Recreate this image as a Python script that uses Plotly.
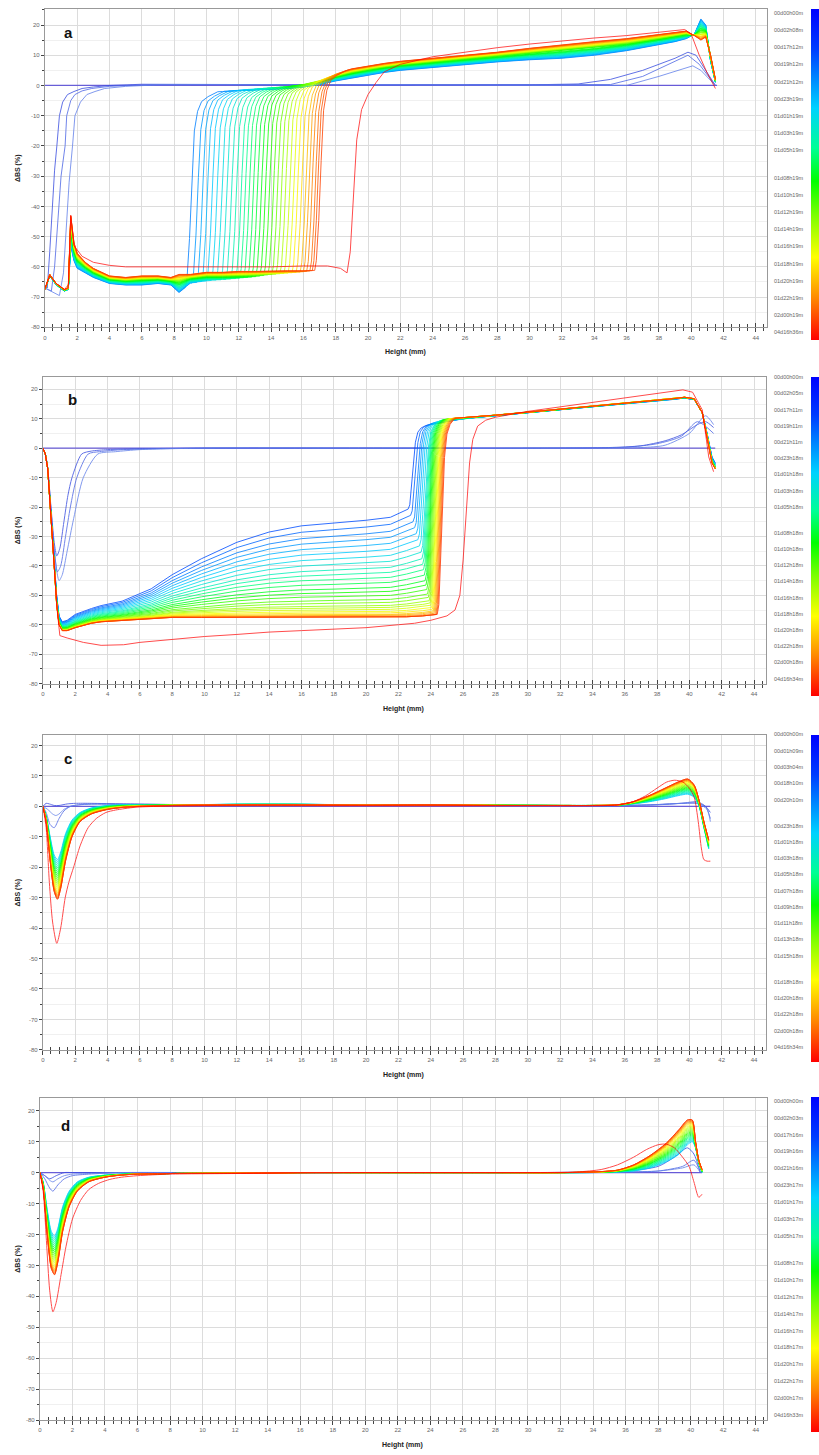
import numpy as np
import plotly.graph_objects as go
from plotly.colors import sample_colorscale

W, H = 819, 1455

# ---------------- colour scale of the time legend (first scan blue -> last scan red)
JET = [[0.00, 'rgb(0,0,255)'], [0.12, 'rgb(0,60,255)'], [0.30, 'rgb(0,210,255)'],
       [0.42, 'rgb(0,255,150)'], [0.52, 'rgb(0,255,0)'], [0.62, 'rgb(120,255,0)'],
       [0.75, 'rgb(255,255,0)'], [0.87, 'rgb(255,140,0)'], [1.00, 'rgb(255,0,0)']]

# ---------------- legend labels (scan times)
LABELS_A = ["00d00h00m", "00d02h08m", "00d17h12m", "00d19h12m", "00d21h12m", "00d23h19m",
            "01d01h19m", "01d03h19m", "01d05h19m", "01d08h19m", "01d10h19m", "01d12h19m",
            "01d14h19m", "01d16h19m", "01d18h19m", "01d20h19m", "01d22h19m", "02d00h19m", "04d16h36m"]
LABELS_B = ["00d00h00m", "00d02h05m", "00d17h11m", "00d19h11m", "00d21h11m", "00d23h18m",
            "01d01h18m", "01d03h18m", "01d05h18m", "01d08h18m", "01d10h18m", "01d12h18m",
            "01d14h18m", "01d16h18m", "01d18h18m", "01d20h18m", "01d22h18m", "02d00h18m", "04d16h34m"]
LABELS_C = ["00d00h00m", "00d01h09m", "00d03h04m", "00d18h10m", "00d20h10m", "00d23h18m",
            "01d01h18m", "01d03h18m", "01d05h18m", "01d07h18m", "01d09h18m", "01d11h18m",
            "01d13h18m", "01d15h18m", "01d18h18m", "01d20h18m", "01d22h18m", "02d00h18m", "04d16h34m"]
LABELS_D = ["00d00h00m", "00d02h03m", "00d17h16m", "00d19h16m", "00d21h16m", "00d23h17m",
            "01d01h17m", "01d03h17m", "01d05h17m", "01d08h17m", "01d10h17m", "01d12h17m",
            "01d14h17m", "01d16h17m", "01d18h17m", "01d20h17m", "01d22h17m", "02d00h17m", "04d16h33m"]

X_TICKS = list(range(0, 45, 2))
Y_TICKS = list(range(-80, 21, 10))

# ======================= PANEL A =======================
A_REF_X = [0, 41.6]
A_REF_Y = [0, 0]
A_EARLY = [
    dict(x=[0, 0.15, 0.3, 0.45, 0.6, 0.74, 0.9, 1.1, 1.4, 1.8, 2.3, 3, 4, 6, 10, 20, 30, 33, 35, 37, 39, 39.8, 40.3, 41, 41.5],
         y=[-66, -67, -55, -40, -28, -20, -10, -5.5, -3, -2, -1, -0.5, 0, 0.4, 0.3, 0.2, 0.2, 0.5, 2, 5, 9, 11, 10, 4, 0]),
    dict(x=[0, 0.4, 0.6, 0.8, 1.0, 1.25, 1.35, 1.6, 1.86, 2.3, 2.9, 4, 6, 10, 20, 30, 35, 37, 39, 39.8, 40.5, 41.5],
         y=[-67, -68, -60, -45, -30, -20, -10, -5, -3, -1.8, -1, -0.3, 0.2, 0.3, 0.2, 0.2, 0.3, 3, 8, 10, 7, 0]),
    dict(x=[0, 0.5, 0.9, 1.15, 1.35, 1.5, 1.71, 1.86, 2.2, 2.6, 3.1, 3.7, 5, 7, 10, 20, 30, 36, 38, 39.5, 40.1, 40.6, 41.5],
         y=[-67, -68.5, -69.5, -62, -45, -32, -20, -10, -5.5, -3, -2, -1, -0.3, 0.2, 0.3, 0.2, 0.2, 0, 3, 5.5, 6.5, 5, 0]),
]
A_PLAT_X = [0, 0.3, 0.7, 1.2, 1.45, 1.6, 1.8, 2.0, 2.5, 3, 4, 5, 6, 7, 7.8, 8.3, 9, 10, 11, 12, 13, 14, 15, 16, 17.5]
A_PLAT_HI = [-67.5, -62.5, -65.5, -67.5, -67, -43, -52, -55.5, -58.5, -60.5, -63, -63.5, -63, -63, -63.5, -62.5,
             -62.5, -61.8, -61.8, -61.5, -61.5, -61.3, -61.3, -61.3, -61]
A_PLAT_LO = [-67.5, -63, -66, -68, -67.5, -53, -58, -60.5, -62, -63.5, -65.5, -66, -66, -65.5, -66, -68.5,
             -65.5, -65, -65, -65, -65, -64.5, -64.5, -64.5, -64.5]
A_UP_X = [9, 11, 13, 15, 16, 17, 18, 19, 20, 21, 22, 24, 26, 28, 30, 32, 34, 36, 38, 39, 39.7, 40.2, 40.6, 40.9, 41.2, 41.5]
A_UP_HI = [-1, -0.5, 0, 0.3, 0.8, 2, 4, 5.5, 6.5, 7.3, 8, 9, 10, 11, 12.3, 13.5, 14.5, 15.5, 16.8, 17.5, 18, 16.5, 15, 16, 10, 2]
A_UP_LO = [-2.5, -2, -1.5, -1, -0.5, 0.3, 1.5, 2.5, 3.5, 4.3, 5, 6, 7, 7.8, 8.5, 9, 10, 11.5, 13.5, 14.5, 15.5, 17, 22, 20, 8, 1]
A_FRONT = [8.7, 9.1, 9.4, 9.7, 10.0, 10.3, 10.6, 10.9, 11.2, 11.5, 11.8, 12.05, 12.3, 12.55, 12.8, 13.05,
           13.3, 13.55, 13.8, 14.05, 14.3, 14.55, 14.8, 15.05, 15.3, 15.55, 15.8, 16.0, 16.2, 16.4, 16.55, 16.7]
A_W = [0.0, 0.03, 0.06, 0.1, 0.13, 0.16, 0.2, 0.23, 0.26, 0.3, 0.33, 0.36, 0.4, 0.43, 0.46, 0.5,
       0.53, 0.56, 0.6, 0.63, 0.66, 0.7, 0.73, 0.76, 0.8, 0.83, 0.86, 0.9, 0.93, 0.96, 0.98, 1.0]
A_T = [0.2, 0.23, 0.25, 0.27, 0.29, 0.31, 0.33, 0.35, 0.37, 0.39, 0.41, 0.43, 0.45, 0.47, 0.49, 0.51,
       0.53, 0.55, 0.58, 0.61, 0.64, 0.67, 0.7, 0.73, 0.76, 0.79, 0.82, 0.85, 0.88, 0.9, 0.92, 0.94]
A_LAST_X = [0, 0.3, 0.7, 1.2, 1.45, 1.6, 1.8, 2.3, 3, 4, 5, 6, 8, 10, 12, 14, 16, 17.5, 18.3, 18.7, 18.9, 19.1,
            19.3, 19.6, 20, 20.5, 21, 22, 24, 26, 28, 30, 32, 34, 36, 38, 39, 39.6, 40, 40.5, 41, 41.5]
A_LAST_Y = [-67, -63, -65.5, -67.5, -66, -43, -53, -56.5, -58.5, -59.5, -60, -60, -60, -60, -60, -60, -59.7, -59.7,
            -60.5, -62, -55, -35, -18, -8, -3, 1, 4.5, 7, 9.5, 11, 12.5, 13.7, 14.8, 15.7, 16.5, 17.5, 18, 18.5, 17, 10, 4, -1]

# ======================= PANEL B =======================
B_REF_X = [0, 41.6]
B_REF_Y = [0, 0]
B_EARLY = [
    dict(x=[0, 0.15, 0.3, 0.5, 0.7, 0.86, 1.05, 1.3, 1.55, 1.8, 2.4, 3, 4, 6, 10, 20, 30, 35, 37, 38.5, 39.5, 40.5, 41, 41.5],
         y=[0, -2, -7, -20, -32, -36.6, -34, -25, -16, -10, -2, -1, -0.5, -0.2, 0, 0, 0, 0.2, 0.8, 2.5, 4.5, 8, 9, 7]),
    dict(x=[0, 0.15, 0.3, 0.5, 0.7, 0.9, 1.1, 1.4, 1.7, 2.1, 2.8, 3.5, 5, 10, 20, 30, 36, 38, 39.5, 40.5, 41.5],
         y=[0, -2, -7, -21, -34, -42, -40, -30, -20, -10, -2, -1.2, -0.5, 0, 0, 0, 0.3, 1.5, 4, 9, 5]),
    dict(x=[0, 0.15, 0.3, 0.5, 0.7, 1.0, 1.2, 1.5, 1.9, 2.5, 3.4, 4.5, 6, 10, 20, 30, 37, 38.5, 40, 41, 41.5],
         y=[0, -2, -7, -21, -35, -45, -43, -35, -24, -10, -2, -1.2, -0.5, 0, 0, 0, 0.2, 1, 5, 11, 8]),
]
B_PLAT_X = [0, 0.15, 0.3, 0.5, 0.7, 0.85, 1.0, 1.2, 1.5, 2, 3, 3.6, 4.9, 6.7, 8, 9.8, 12, 14, 16, 18, 20, 21.5, 22.5, 23.5, 24.2]
B_PLAT_TOP = [0, -2, -7, -22, -38, -50, -57, -59, -58.5, -56.5, -54.5, -53.5, -52, -47.8, -43, -37.6, -32, -28.5,
              -26.4, -25.5, -24.5, -23.5, -21, -18, -15]
B_PLAT_BOT = [0, -2, -7, -22, -40, -53, -60, -62, -62, -61, -59.5, -59, -58.5, -58, -57.5, -57.5, -57.5, -57.5,
              -57.5, -57.5, -57.5, -57.5, -57.3, -57, -56.5]
B_UP_X = [22.5, 23.0, 23.5, 24.0, 24.5, 25, 26, 27, 28, 30, 32, 34, 36, 38, 39, 39.7, 40.3, 40.8, 41.1, 41.4, 41.6]
B_UP_TOP = [6, 7, 7.5, 8, 8.5, 9, 10, 10.5, 11, 12, 13, 14, 15, 16, 16.5, 17, 16.5, 12, 5, -3, -5]
B_UP_BOT = [9, 9.5, 9.8, 10, 10, 10, 10.3, 10.8, 11.2, 12.2, 13.2, 14.2, 15.2, 16.3, 16.8, 17.3, 16.8, 12, 4, -5, -7]
B_FRONT = [22.6, 22.75, 22.9, 23.0, 23.1, 23.2, 23.3, 23.4, 23.45, 23.5, 23.55, 23.6, 23.65, 23.7,
           23.75, 23.8, 23.85, 23.9, 23.95, 24.0, 24.05, 24.1, 24.15, 24.2, 24.25, 24.3, 24.35, 24.4]
B_W = [0.0, 0.07, 0.14, 0.2, 0.26, 0.32, 0.38, 0.44, 0.5, 0.55, 0.6, 0.65, 0.7, 0.74,
       0.78, 0.82, 0.85, 0.88, 0.9, 0.92, 0.94, 0.955, 0.97, 0.98, 0.99, 1.0, 1.0, 1.0]
B_T = [0.14, 0.17, 0.2, 0.23, 0.26, 0.29, 0.32, 0.35, 0.38, 0.41, 0.44, 0.47, 0.5, 0.53,
       0.56, 0.59, 0.62, 0.65, 0.68, 0.71, 0.74, 0.77, 0.8, 0.83, 0.86, 0.89, 0.92, 0.95]
B_LAST_X = [0, 0.15, 0.3, 0.5, 0.7, 0.9, 1.05, 1.5, 2.5, 3.6, 5, 6, 8, 10, 12, 14, 16, 18, 20, 22, 23, 24, 25, 25.5,
            25.8, 26.0, 26.2, 26.4, 26.6, 26.9, 27.4, 28, 30, 32, 34, 36, 38, 39, 39.6, 40.2, 40.8, 41.2, 41.5]
B_LAST_Y = [0, -2, -7, -22, -40, -56, -63.7, -64.5, -66, -67, -66.8, -66, -65, -64, -63.3, -62.5, -62, -61.5, -61,
            -60, -59.5, -58.5, -57, -55, -50, -38, -20, -5, 3, 7.5, 9.5, 10.5, 12.5, 14, 15.5, 17, 18.5, 19.3, 19.8,
            19, 13, -3, -8]

# ======================= PANEL C =======================
C_REF_X = [0, 41.3]
C_REF_Y = [0, 0]
C_EARLY = [
    dict(x=[0, 0.2, 0.4, 0.7, 1, 1.5, 2, 3, 5, 10, 20, 30, 36, 38, 39.5, 40.5, 41, 41.3],
         y=[0, 1, 0.8, 0.3, 0.3, 0.8, 1, 1, 0.8, 0.5, 0.3, 0.3, 0.3, 0.6, 1, 1, 0, -2]),
    dict(x=[0, 0.2, 0.45, 0.7, 1.0, 1.3, 1.7, 2.2, 3, 5, 10, 20, 30, 36, 38, 39.5, 40.5, 41, 41.3],
         y=[0, -2, -6, -7, -4, -1.5, 0, 0.5, 0.8, 0.8, 0.5, 0.3, 0.3, 0.3, 0.5, 1, 1.5, 0, -4]),
    dict(x=[0, 0.3, 0.6, 0.8, 1.0, 1.3, 1.7, 2.2, 3, 5, 10, 20, 30, 36, 38, 39.5, 40.5, 41.1, 41.3],
         y=[0, -1, -2.5, -3, -2.5, -1, 0, 0.5, 0.7, 0.6, 0.5, 0.3, 0.3, 0.3, 0.6, 1, 1, -1, -5]),
]
C_X = [0, 0.2, 0.45, 0.7, 0.9, 1.1, 1.4, 1.8, 2.3, 3, 4, 5, 6, 8, 12, 16, 20, 24, 28, 32, 34,
       35.5, 36.5, 37.5, 38.5, 39.3, 39.9, 40.3, 40.6, 40.9, 41.2]
C_LO = [0, -3, -10, -16, -17.5, -15, -9, -4.5, -2, -0.5, 0.3, 0.5, 0.5, 0.5, 0.7, 0.7, 0.5, 0.5, 0.4, 0.3, 0.3,
        0.3, 0.8, 1.5, 2.5, 3.5, 4, 3, 0, -7, -14]
C_HI = [0, -5, -18, -28, -30.5, -27, -18, -10, -5, -2.5, -1, -0.3, 0, 0.3, 0.5, 0.5, 0.4, 0.5, 0.3, 0.3, 0.3,
        0.5, 1.5, 3.5, 6, 8, 9, 7, 2, -5, -11]
C_W = [0.0, 0.05, 0.1, 0.15, 0.2, 0.25, 0.3, 0.35, 0.4, 0.45, 0.5, 0.55, 0.6, 0.65, 0.7, 0.75,
       0.8, 0.84, 0.88, 0.91, 0.94, 0.97, 1.0, 1.0]
C_T = [0.3, 0.32, 0.35, 0.38, 0.41, 0.44, 0.47, 0.5, 0.53, 0.56, 0.59, 0.62, 0.65, 0.68, 0.71, 0.74,
       0.77, 0.8, 0.83, 0.86, 0.89, 0.91, 0.93, 0.95]
C_LAST_X = [0, 0.2, 0.4, 0.6, 0.86, 1.1, 1.38, 1.6, 1.9, 2.3, 2.8, 3.3, 3.9, 4.5, 5.7, 7, 10, 20, 30, 34, 35.7,
            36.5, 37.3, 38, 38.6, 39.1, 39.6, 40, 40.3, 40.55, 40.75, 40.9, 41.1, 41.3]
C_LAST_Y = [0, -7, -25, -38, -45, -40, -30, -25, -20, -13, -7, -4, -2, -1.2, -0.3, 0, 0.2, 0.2, 0.2, 0.2, 0.5,
            1.5, 3.5, 6, 8, 8.6, 8, 6, 3, -5, -14, -17.5, -18, -18]

# ======================= PANEL D =======================
D_REF_X = [0, 40.7]
D_REF_Y = [0, 0]
D_EARLY = [
    dict(x=[0, 0.3, 0.6, 1, 1.5, 2, 4, 10, 20, 30, 36, 38, 39, 39.8, 40.2, 40.6],
         y=[0, -1, -2, -1, 0, 0, 0, 0, 0, 0, 0.5, 2, 5, 8, 6, 0]),
    dict(x=[0, 0.3, 0.6, 0.8, 1.1, 1.5, 2, 3, 5, 10, 20, 30, 36, 38, 39.5, 40.2, 40.6],
         y=[0, -2, -5, -6, -4, -2, -1, -0.5, 0, 0, 0, 0, 0.2, 0.5, 2, 4, 0]),
    dict(x=[0, 0.3, 0.6, 0.8, 1.1, 1.5, 2, 3, 5, 10, 20, 30, 36, 38, 39.5, 40.2, 40.6],
         y=[0, -1, -2.5, -3, -2, -1, -0.5, -0.3, 0, 0, 0, 0, 0.2, 0.5, 1.5, 2.5, 0]),
]
D_X = [0, 0.2, 0.45, 0.7, 0.9, 1.1, 1.4, 1.8, 2.3, 3, 4, 5, 6, 8, 12, 16, 20, 24, 28, 32, 34,
       35.5, 36.5, 37.5, 38.5, 39.3, 39.8, 40.1, 40.3, 40.5, 40.7]
D_LO = [0, -3, -12, -19, -20.5, -18, -11, -6, -3, -1.5, -0.8, -0.5, -0.5, -0.3, -0.2, 0, 0, 0, 0, 0, 0,
        0.2, 0.5, 1.5, 3.5, 6, 9, 10, 8, 3, 0]
D_HI = [0, -5, -20, -31, -33, -29, -19, -11, -6, -3, -1.5, -0.8, -0.5, -0.3, -0.2, 0, 0, 0, 0, 0, 0.2,
        0.8, 2.5, 5.5, 9.5, 14, 17, 17, 10, 4, 1]
D_W = [0.0, 0.05, 0.1, 0.15, 0.2, 0.25, 0.3, 0.35, 0.4, 0.45, 0.5, 0.55, 0.6, 0.65, 0.7, 0.75,
       0.8, 0.84, 0.88, 0.91, 0.94, 0.97, 1.0, 1.0]
D_T = [0.3, 0.32, 0.35, 0.38, 0.41, 0.44, 0.47, 0.5, 0.53, 0.56, 0.59, 0.62, 0.65, 0.68, 0.71, 0.74,
       0.77, 0.8, 0.83, 0.86, 0.89, 0.91, 0.93, 0.95]
D_LAST_X = [0, 0.2, 0.4, 0.6, 0.8, 1.0, 1.3, 1.6, 2, 2.5, 3, 3.6, 4.3, 5, 6, 8, 12, 20, 30, 33, 34.5, 35.5,
            36.5, 37.3, 38, 38.5, 39, 39.5, 39.9, 40.2, 40.5, 40.7]
D_LAST_Y = [0, -6, -22, -38, -45, -42, -33, -24, -15, -9, -5.5, -3.5, -2.2, -1.5, -1, -0.5, -0.3, 0, 0, 0.2, 1,
            2.5, 5, 7.5, 9, 9.2, 8, 5, 2, -3, -8, -7]

# shape of a sedimentation front (offset from front, fraction of the jump)
RISE_DX_A = [0, 0.1, 0.25, 0.4, 0.55, 0.75, 1.0, 1.4, 2.0]
RISE_F_A = [0, 0.05, 0.25, 0.55, 0.8, 0.9, 0.95, 0.975, 1.0]
RISE_DX_B = [0, 0.1, 0.2, 0.32, 0.45, 0.6, 0.8, 1.1]
RISE_F_B = [0, 0.05, 0.25, 0.55, 0.8, 0.92, 0.97, 1.0]

EARLY_COLORS = ['rgb(60,80,225)', 'rgb(80,105,230)', 'rgb(100,130,235)']
REF_COLOR = 'rgb(95,80,215)'


def blend(lo, hi, w):
    return [l + w * (h - l) for l, h in zip(lo, hi)]


def front_curve(px, plo, phi, ux, ulo, uhi, xf, w, rdx, rf):
    py = blend(plo, phi, w)
    uy = blend(ulo, uhi, w)
    xs, ys = [], []
    for x, y in zip(px, py):
        if x < xf - 0.05:
            xs.append(x); ys.append(y)
    p_end = float(np.interp(xf, px, py))
    post = float(np.interp(xf + rdx[-1], ux, uy))
    for dx, f in zip(rdx, rf):
        xs.append(xf + dx); ys.append(p_end + f * (post - p_end))
    for x, y in zip(ux, uy):
        if x > xf + rdx[-1] + 0.05:
            xs.append(x); ys.append(y)
    return xs, ys


def col(t):
    return sample_colorscale(JET, [t])[0]


fig = go.Figure()

# pixel geometry of each panel (left, right, top, bottom in px, top y value, x max)
GEOM = [
    dict(x0=43, x1=767, yt=9, yb=328, ytop=25.3, xmax=44.7, lab_first=13, lab_last=333, lab_gaps=[9]),
    dict(x0=41, x1=766, yt=378, yb=685, ytop=24.1, xmax=44.75, lab_first=378, lab_last=680, lab_gaps=[9]),
    dict(x0=41, x1=766, yt=737, yb=1052, ytop=23.3, xmax=44.75, lab_first=736, lab_last=1049, lab_gaps=[5, 14]),
    dict(x0=38, x1=767, yt=1100, yb=1423, ytop=24.2, xmax=44.7, lab_first=1103, lab_last=1418, lab_gaps=[9]),
]
LETTERS = ['a', 'b', 'c', 'd']
LETTER_POS = [(67, 33), (71, 400), (66, 760), (64, 1128)]
LABELS = [LABELS_A, LABELS_B, LABELS_C, LABELS_D]


def line(x, y, color, i, width=1.0, opacity=0.8, smooth=False):
    ln = dict(color=color, width=width)
    if smooth:
        ln.update(shape='spline', smoothing=0.7)
    fig.add_trace(go.Scatter(x=x, y=y, mode='lines', line=ln,
                             opacity=opacity, showlegend=False, hoverinfo='skip',
                             xaxis='x' if i == 0 else f'x{i+1}', yaxis='y' if i == 0 else f'y{i+1}'))


# ---- panel a
line(A_REF_X, A_REF_Y, REF_COLOR, 0, 1.3, 0.9)
for k, c in enumerate(A_EARLY):
    line(c['x'], c['y'], EARLY_COLORS[k], 0)
for xf, w, t in zip(A_FRONT, A_W, A_T):
    xs, ys = front_curve(A_PLAT_X, A_PLAT_LO, A_PLAT_HI, A_UP_X, A_UP_LO, A_UP_HI, xf, w, RISE_DX_A, RISE_F_A)
    line(xs, ys, col(t), 0)
line(A_LAST_X, A_LAST_Y, col(1.0), 0, 1.0, 0.7)

# ---- panel b
line(B_REF_X, B_REF_Y, REF_COLOR, 1, 1.3, 0.9)
for k, c in enumerate(B_EARLY):
    line(c['x'], c['y'], EARLY_COLORS[k], 1, smooth=True)
for xf, w, t in zip(B_FRONT, B_W, B_T):
    xs, ys = front_curve(B_PLAT_X, B_PLAT_TOP, B_PLAT_BOT, B_UP_X, B_UP_TOP, B_UP_BOT, xf, w, RISE_DX_B, RISE_F_B)
    line(xs, ys, col(t), 1)
line(B_LAST_X, B_LAST_Y, col(1.0), 1, 1.0, 0.7)

# ---- panel c
line(C_REF_X, C_REF_Y, REF_COLOR, 2, 1.3, 0.9)
for k, c in enumerate(C_EARLY):
    line(c['x'], c['y'], EARLY_COLORS[k], 2, smooth=True)
for w, t in zip(C_W, C_T):
    line(C_X, blend(C_LO, C_HI, w), col(t), 2, smooth=True)
line(C_LAST_X, C_LAST_Y, col(1.0), 2, 1.0, 0.7, smooth=True)

# ---- panel d
line(D_REF_X, D_REF_Y, REF_COLOR, 3, 1.3, 0.9)
for k, c in enumerate(D_EARLY):
    line(c['x'], c['y'], EARLY_COLORS[k], 3, smooth=True)
for w, t in zip(D_W, D_T):
    line(D_X, blend(D_LO, D_HI, w), col(t), 3, smooth=True)
line(D_LAST_X, D_LAST_Y, col(1.0), 3, 1.0, 0.7, smooth=True)

TICKFONT = dict(family='Liberation Sans, Arial, sans-serif', size=6, color='#666')
layout = dict(width=W, height=H, margin=dict(l=0, r=0, t=0, b=0), paper_bgcolor='white',
              plot_bgcolor='white', showlegend=False)
annotations = []

for i, g in enumerate(GEOM):
    sx = '' if i == 0 else str(i + 1)
    xd = [g['x0'] / W, g['x1'] / W]
    yd = [1 - g['yb'] / H, 1 - g['yt'] / H]
    layout['xaxis' + sx] = dict(domain=xd, range=[0, g['xmax']], anchor='y' + sx,
                                tickvals=X_TICKS, ticktext=[str(v) for v in X_TICKS],
                                ticks='outside', ticklen=4, tickcolor='#444', tickwidth=1,
                                minor=dict(dtick=0.5, tick0=0, ticks='outside', ticklen=3, tickcolor='#444',
                                           showgrid=False),
                                showgrid=True, gridcolor='#dcdcdc', gridwidth=1, zeroline=False,
                                showline=True, linecolor='#999', mirror=True, linewidth=1,
                                tickfont=TICKFONT, fixedrange=True)
    layout['yaxis' + sx] = dict(domain=yd, range=[-80, g['ytop']], anchor='x' + sx,
                                tickvals=Y_TICKS, ticktext=[str(v) for v in Y_TICKS],
                                ticks='outside', ticklen=3, tickcolor='#444',
                                minor=dict(dtick=5, tick0=0, ticks='outside', ticklen=2, tickcolor='#444',
                                           showgrid=True, gridcolor='#f0f0f0'),
                                showgrid=True, gridcolor='#dcdcdc', zeroline=False,
                                showline=True, linecolor='#999', mirror=True, linewidth=1,
                                tickfont=TICKFONT, fixedrange=True)
    # second x axis giving the crossing (+) tick marks on the base line
    ox = str(i + 5)
    layout['xaxis' + ox] = dict(overlaying='x' + sx if sx else 'x', anchor='y' + sx, range=[0, g['xmax']],
                                tickvals=X_TICKS, showticklabels=False, ticks='inside', ticklen=4,
                                tickcolor='#444', minor=dict(dtick=0.5, tick0=0, ticks='inside', ticklen=3,
                                                             tickcolor='#444'),
                                showgrid=False, zeroline=False, showline=False, fixedrange=True)
    fig.add_trace(go.Scatter(x=[None], y=[None], xaxis='x' + ox, yaxis='y' + sx if sx else 'y',
                             showlegend=False, hoverinfo='skip'))
    # colour strip
    fig.add_trace(go.Scatter(x=[-100], y=[-500], mode='markers', xaxis='x' + sx if sx else 'x',
                             yaxis='y' + sx if sx else 'y', showlegend=False, hoverinfo='skip',
                             marker=dict(color=[0.5], cmin=0, cmax=1, colorscale=JET, reversescale=True,
                                         showscale=True, size=1,
                                         colorbar=dict(x=811 / W, xanchor='left', xpad=0, ypad=0,
                                                       y=1 - (g['yt'] + g['yb'] + 12) / 2 / H, yanchor='middle',
                                                       len=g['yb'] - g['yt'] + 12, lenmode='pixels',
                                                       thickness=8, thicknessmode='pixels', outlinewidth=0,
                                                       showticklabels=False, ticks=''))))
    # legend labels
    labs = LABELS[i]
    n_units = (len(labs) - 1) + 0.6 * len(g['lab_gaps'])
    step = (g['lab_last'] - g['lab_first']) / n_units
    ypix = g['lab_first']
    for k, lab in enumerate(labs):
        annotations.append(dict(x=772 / W, y=1 - ypix / H, xref='paper', yref='paper', text=lab,
                                showarrow=False, xanchor='left', yanchor='middle',
                                font=dict(family='Liberation Sans, Arial, sans-serif', size=5.5, color='#666')))
        ypix += step * (1.6 if (k + 1) in g['lab_gaps'] else 1.0)
    # panel letter
    lx, ly = LETTER_POS[i]
    annotations.append(dict(x=lx / W, y=1 - ly / H, xref='paper', yref='paper', text='<b>%s</b>' % LETTERS[i],
                            showarrow=False, xanchor='center', yanchor='middle',
                            font=dict(family='Liberation Sans, Arial, sans-serif', size=15, color='#111')))
    # axis titles
    annotations.append(dict(x=(g['x0'] + (g['x1'] - g['x0']) * 22.3 / g['xmax']) / W, y=1 - (g['yb'] + 25) / H,
                            xref='paper', yref='paper', text='<b>Height (mm)</b>', showarrow=False,
                            xanchor='center', yanchor='middle',
                            font=dict(family='Liberation Sans, Arial, sans-serif', size=7, color='#222')))
    annotations.append(dict(x=16 / W, y=1 - (g['yt'] + g['yb']) / 2 / H, xref='paper', yref='paper',
                            text='<b>ΔBS (%)</b>', showarrow=False, textangle=-90,
                            xanchor='center', yanchor='middle',
                            font=dict(family='Liberation Sans, Arial, sans-serif', size=7, color='#222')))

layout['annotations'] = annotations
fig.update_layout(**layout)
fig.write_html("out.html")
